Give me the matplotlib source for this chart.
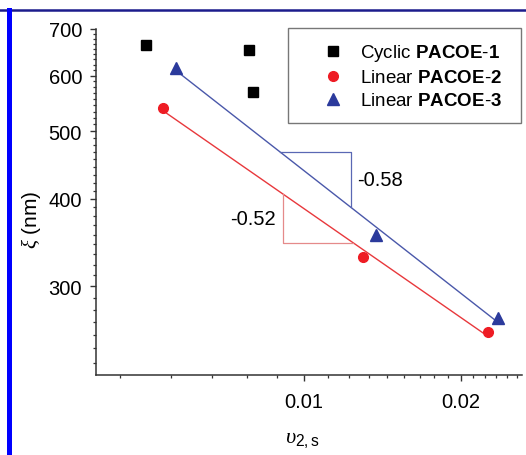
import numpy as np
import matplotlib
matplotlib.use('Agg')
import matplotlib.pyplot as plt
from matplotlib.lines import Line2D
from matplotlib.ticker import FixedLocator, FixedFormatter, NullFormatter

plt.rcParams['font.family'] = ['Liberation Sans', 'DejaVu Sans']
plt.rcParams['mathtext.fontset'] = 'custom'
plt.rcParams['mathtext.rm'] = 'Liberation Sans'
plt.rcParams['mathtext.bf'] = 'Liberation Sans:bold'
plt.rcParams['mathtext.it'] = 'Liberation Serif:italic'

# data
cyc_x = [0.00498, 0.00785, 0.00799]
cyc_y = [665, 654, 569]
lin2_x = [0.00537, 0.01297, 0.0225]
lin2_y = [540, 330, 258.5]
lin3_x = [0.00569, 0.01374, 0.02353]
lin3_y = [616, 355.6, 270.6]

labels = ['Cyclic $\\mathbf{PACOE}$-$\\mathbf{1}$',
          'Linear $\\mathbf{PACOE}$-$\\mathbf{2}$',
          'Linear $\\mathbf{PACOE}$-$\\mathbf{3}$']
slope_labels = ['-0.52', '-0.58']
x_ticks = [0.01, 0.02]
x_ticklabels = ['0.01', '0.02']
y_ticks = [300, 400, 500, 600, 700]

RED = '#ee1c24'
RED_LINE = '#e8383c'
RED_TRI = '#e58a8a'
BLUE = '#2b3a9c'
BLUE_LINE = '#4a58aa'
BLUE_TRI = '#5a68b4'


def power_fit(x, y):
    b, a = np.polyfit(np.log10(x), np.log10(y), 1)
    return lambda xx: 10 ** (a + b * np.log10(xx))


fig = plt.figure(figsize=(5.26, 4.56), dpi=100)
ax = fig.add_axes([96 / 526, 80 / 456, 426 / 526, 346 / 456])
ax.set_xscale('log')
ax.set_yscale('log')

f2 = power_fit(lin2_x, lin2_y)
f3 = power_fit(lin3_x, lin3_y)

xx2 = np.array([min(lin2_x), 0.0220])
xx3 = np.array([min(lin3_x), 0.0234])
ax.plot(xx2, f2(xx2), color=RED_LINE, lw=1.0, zorder=2)
ax.plot(xx3, f3(xx3), color=BLUE_LINE, lw=1.0, zorder=2)

ax.plot(cyc_x, cyc_y, 's', color='black', ms=6.5, ls='none', label=labels[0], zorder=3)
ax.plot(lin2_x, lin2_y, 'o', color=RED, ms=7, ls='none', label=labels[1], zorder=3)
ax.plot(lin3_x, lin3_y, '^', color=BLUE, ms=8, ls='none', label=labels[2], zorder=3)

# slope triangles
t3a, t3b = 0.0090, 0.0123
ax.plot([t3a, t3b, t3b], [f3(t3a), f3(t3a), f3(t3b)], color=BLUE_TRI, lw=0.9)
ax.annotate(slope_labels[1], xy=(t3b, np.sqrt(f3(t3a) * f3(t3b))),
            xytext=(4.5, 0), textcoords='offset points',
            ha='left', va='center', fontsize=14.5)
t2a, t2b = 0.00912, 0.0124
ax.plot([t2b, t2a, t2a], [f2(t2b), f2(t2b), f2(t2a)], color=RED_TRI, lw=0.9)
ax.annotate(slope_labels[0], xy=(t2a, np.sqrt(f2(t2a) * f2(t2b))),
            xytext=(-5, 0), textcoords='offset points',
            ha='right', va='center', fontsize=14.5)

ax.set_xlim(0.003995, 0.02616)
ax.set_ylim(224, 700)

ax.xaxis.set_major_locator(FixedLocator(x_ticks))
ax.xaxis.set_major_formatter(FixedFormatter(x_ticklabels))
ax.xaxis.set_minor_locator(FixedLocator([k * 0.01 / 9 for k in range(1, 28)]))
ax.xaxis.set_minor_formatter(NullFormatter())
ax.yaxis.set_major_locator(FixedLocator(y_ticks))
ax.yaxis.set_major_formatter(FixedFormatter([str(v) for v in y_ticks]))
ax.yaxis.set_minor_locator(FixedLocator([200 + k * 100 / 9 for k in range(0, 46)]))
ax.yaxis.set_minor_formatter(NullFormatter())

ax.tick_params(which='major', direction='out', length=4, width=1, labelsize=14.5,
               color='#333333', pad=6)
ax.tick_params(which='minor', direction='out', length=2.2, width=0.9, color='#333333')
ax.tick_params(axis='x', which='major', pad=8)

for side in ['top', 'right']:
    ax.spines[side].set_visible(False)
for side in ['left', 'bottom']:
    ax.spines[side].set_color('#333333')
    ax.spines[side].set_linewidth(1.1)

ax.set_xlabel(r'$\upsilon_{\mathrm{2,s}}$', fontsize=16)
ax.xaxis.set_label_coords(0.4836, -0.152)
ax.set_ylabel(r'$\xi$ (nm)', fontsize=15)
ax.yaxis.set_label_coords(-0.125, 0.45)

leg = ax.legend(loc='upper left', bbox_to_anchor=(288 / 526, 1 - 29 / 456, 233 / 526, 0),
                bbox_transform=fig.transFigure, mode='expand', borderaxespad=0,
                fontsize=13.5, frameon=True, fancybox=False, edgecolor='#555555',
                borderpad=0.75, handlelength=3.3, handletextpad=-0.21, labelspacing=0.32)
leg.get_frame().set_linewidth(1.0)

# blue frame around the picture
fig.add_artist(Line2D([0, 1], [445 / 456, 445 / 456], transform=fig.transFigure,
                      color='#1c1c8c', lw=1.8))
fig.add_artist(Line2D([9.5 / 526, 9.5 / 526], [0, 445 / 456], transform=fig.transFigure,
                      color='#0000ff', lw=3.6))

fig.savefig('out.png', dpi=100)
